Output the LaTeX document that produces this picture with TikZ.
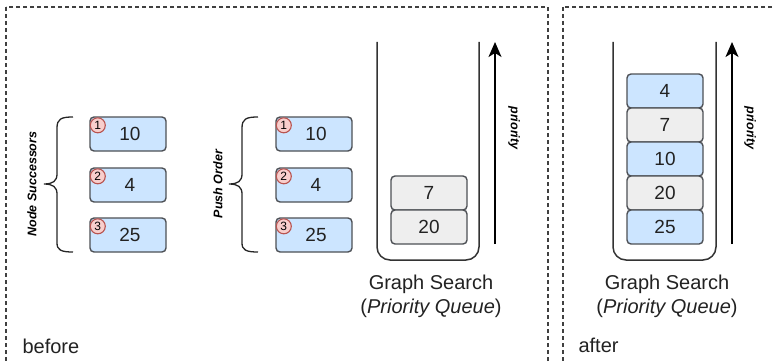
\documentclass[tikz,border=0pt]{standalone}
\usepackage{fontspec}
\setmainfont{Liberation Sans}
\usetikzlibrary{arrows.meta}
\definecolor{bluefill}{HTML}{CCE5FF}
\definecolor{grayfill}{HTML}{EEEEEE}
\definecolor{boxline}{HTML}{4D5055}
\definecolor{badgefill}{HTML}{F8CECC}
\definecolor{badgeline}{HTML}{B85450}
\definecolor{ink}{HTML}{222222}
\tikzset{
  item/.style={draw=boxline, line width=1.4pt, rounded corners=4pt, minimum width=76pt, minimum height=34pt, inner sep=0pt, text=ink, font=\fontsize{19}{22}\selectfont},
  bluebox/.style={item, fill=bluefill},
  graybox/.style={item, fill=grayfill},
  badge/.style={circle, draw=badgeline, fill=badgefill, line width=1.1pt, minimum size=15pt, inner sep=0pt, font=\fontsize{12}{13}\selectfont},
  sidelabel/.style={font=\fontsize{12.5}{14}\selectfont\bfseries\itshape, text=black},
  title/.style={font=\fontsize{20}{24}\selectfont, text=ink},
  frame/.style={draw=black!75, line width=1.2pt, dash pattern=on 4pt off 3pt},
  queue/.style={draw=black!80, line width=1.5pt, rounded corners=13pt},
  bracepath/.style={draw=black!85, line width=1.3pt},
  prioarrow/.style={draw=black, line width=1.5pt, -{Stealth[length=15pt,width=13pt,inset=4pt]}}
}
\begin{document}
\begin{tikzpicture}[x=1pt,y=-1pt]
\useasboundingbox (0,0) rectangle (775,361);
\clip (0,0) rectangle (775,361);
% frames
\draw[frame] (6,7) rectangle (548,375);
\draw[frame] (563,7) rectangle (800,375);
% --- before: node successors
\node[sidelabel, rotate=90] (nslabel) at (32,184) {Node Successors};
\draw[bracepath] (73,117) .. controls (61,117) and (57,119) .. (57,128) -- (57,174) .. controls (57,181) and (53,184) .. (44,184) .. controls (53,184) and (57,187) .. (57,194) -- (57,243) .. controls (57,250) and (61,252) .. (73,252);
\node[bluebox] (a1) at (128,134) {\hspace*{4pt}10};
\node[bluebox] (a2) at (128,185) {\hspace*{4pt}4};
\node[bluebox] (a3) at (128,235) {\hspace*{4pt}25};
\node[badge] (a1b) at ([xshift=8.5pt,yshift=-9pt]a1.north west) {1};
\node[badge] (a2b) at ([xshift=8.5pt,yshift=-9pt]a2.north west) {2};
\node[badge] (a3b) at ([xshift=8.5pt,yshift=-9pt]a3.north west) {3};
% --- push order
\node[sidelabel, rotate=90] (polabel) at (218,184) {Push Order};
\draw[bracepath] (258,117) .. controls (246,117) and (242,119) .. (242,128) -- (242,174) .. controls (242,181) and (238,184) .. (229,184) .. controls (238,184) and (242,187) .. (242,194) -- (242,243) .. controls (242,250) and (246,252) .. (258,252);
\node[bluebox] (p1) at (314,134) {\hspace*{4pt}10};
\node[bluebox] (p2) at (314,185) {\hspace*{4pt}4};
\node[bluebox] (p3) at (314,235) {\hspace*{4pt}25};
\node[badge] (p1b) at ([xshift=8.5pt,yshift=-9pt]p1.north west) {1};
\node[badge] (p2b) at ([xshift=8.5pt,yshift=-9pt]p2.north west) {2};
\node[badge] (p3b) at ([xshift=8.5pt,yshift=-9pt]p3.north west) {3};
% --- queue before
\draw[queue] (377,42) -- (377,260) -- (479,260) -- (479,42);
\node[graybox] (q7) at (429,193) {7};
\node[graybox] (q20) at (429,227) {20};
\coordinate (arrAfrom) at (495,244);
\coordinate (arrAto) at (495,42);
\draw[prioarrow] (arrAfrom) -- (arrAto);
\node[sidelabel, rotate=-90] (prA) at (514,128) {priority};
\node[title] (gsA) at (431,284) {Graph Search};
\node[title] (pqA) at (431,308) {(\textit{Priority Queue})};
\node[title, anchor=west] (before) at (19,346) {before};
% --- queue after
\draw[queue] (613,42) -- (613,260) -- (716,260) -- (716,42);
\node[bluebox] (r4) at (665,91) {4};
\node[graybox] (r7) at (665,125) {7};
\node[bluebox] (r10) at (665,159) {10};
\node[graybox] (r20) at (665,193) {20};
\node[bluebox] (r25) at (665,227) {25};
\coordinate (arrBfrom) at (732,244);
\coordinate (arrBto) at (732,42);
\draw[prioarrow] (arrBfrom) -- (arrBto);
\node[sidelabel, rotate=-90] (prB) at (750,128) {priority};
\node[title] (gsB) at (667,284) {Graph Search};
\node[title] (pqB) at (667,308) {(\textit{Priority Queue})};
\node[title, anchor=west] (after) at (575,345) {after};
\end{tikzpicture}
\end{document}
